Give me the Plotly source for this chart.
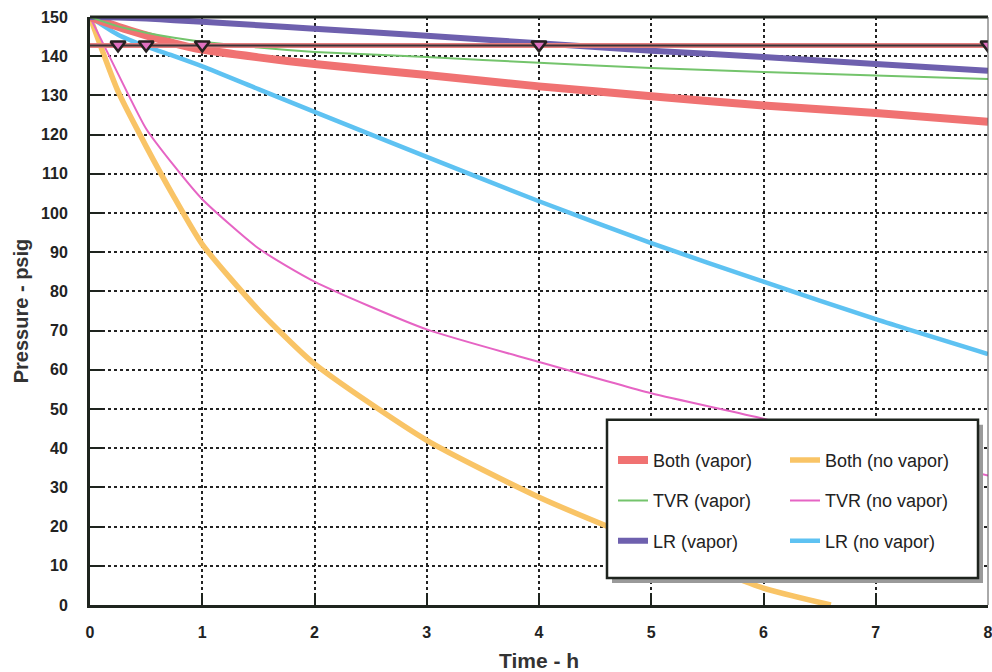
import plotly.graph_objects as go

# ---- data ----
t = [0, 0.25, 0.5, 0.75, 1, 1.5, 2, 3, 4, 5, 6, 7, 8]
both_vapor = [150, 147.5, 145.3, 143.3, 141.7, 139.7, 138.0, 135.2, 132.3, 129.8, 127.4, 125.5, 123.3]
tvr_vapor = [150, 147.6, 146.0, 144.7, 143.7, 142.2, 141.1, 139.8, 138.3, 137.0, 136.0, 135.1, 134.2]
lr_vapor = [150, 149.9, 149.6, 149.2, 148.8, 147.9, 147.0, 145.2, 143.3, 141.4, 139.8, 138.0, 136.3]
lr_novapor = [150, 145.5, 142.5, 140.0, 137.4, 131.6, 125.8, 114.3, 103.0, 92.3, 82.5, 72.9, 64.0]
tvr_novapor = [150, 135.5, 121.5, 112.0, 103.5, 91.0, 82.5, 70.3, 62.0, 54.0, 47.5, 40.0, 33.0]
t_both_novapor = [0, 0.25, 0.5, 0.75, 1, 1.5, 2, 3, 4, 5, 6, 6.6]
both_novapor = [150, 131, 117, 104, 92, 75.3, 61.5, 42, 27.5, 15.5, 4.3, 0]

ref_t = [0, 8]
ref_p = [142.7, 142.7]
mark_t = [0.25, 0.5, 1, 4, 8]
mark_p = [142.9, 142.9, 142.9, 142.9, 142.9]

x_ticks = [0, 1, 2, 3, 4, 5, 6, 7, 8]
y_ticks = list(range(0, 151, 10))

C_RED = "#F07272"
C_ORANGE = "#F9C466"
C_GREEN = "#74C46C"
C_PINK = "#E664C4"
C_PURPLE = "#6E60AE"
C_BLUE = "#5EC2F2"

FONT = "Liberation Sans, Arial, sans-serif"

fig = go.Figure()

def add(x, y, name, color, width, legend, group, rank):
    fig.add_trace(go.Scatter(
        x=x, y=y, name=name, mode="lines",
        line=dict(color=color, width=width, shape="spline", smoothing=0.6),
        legend=legend, legendgroup=group, legendrank=rank))

# draw order: lighter/thin on top
add(t_both_novapor, both_novapor, "Both (no vapor)", C_ORANGE, 5.5, "legend2", "g1", 1)
add(t, tvr_novapor, "TVR (no vapor)", C_PINK, 2, "legend2", "g2", 2)
add(t, lr_novapor, "LR (no vapor)", C_BLUE, 4.5, "legend2", "g3", 3)
add(t, both_vapor, "Both (vapor)", C_RED, 8, "legend", "a1", 1)
add(t, lr_vapor, "LR (vapor)", C_PURPLE, 6, "legend", "a3", 3)
add(t, tvr_vapor, "TVR (vapor)", C_GREEN, 2, "legend", "a2", 2)

# reference line with triangle markers
fig.add_trace(go.Scatter(x=ref_t, y=ref_p, mode="lines",
                         line=dict(color="#E88080", width=5), showlegend=False))
fig.add_trace(go.Scatter(x=ref_t, y=ref_p, mode="lines",
                         line=dict(color="#3a3438", width=2), showlegend=False))
fig.add_trace(go.Scatter(x=mark_t, y=mark_p, mode="markers",
                         marker=dict(symbol="triangle-down", size=13, color="#E070C0",
                                     line=dict(color="#262020", width=2.5)),
                         showlegend=False))

# legend box (shadow + white box with black border)
def px2x(px):
    return (px - 90) / 898.0

def py2y(py):
    return (605 - py) / 587.5

fig.add_shape(type="rect", xref="paper", yref="paper",
              x0=px2x(612), x1=px2x(983), y0=py2y(583), y1=py2y(425),
              fillcolor="#9a9a9a", line=dict(width=0), layer="above")
fig.add_shape(type="rect", xref="paper", yref="paper",
              x0=px2x(607), x1=px2x(978), y0=py2y(578), y1=py2y(420),
              fillcolor="white", line=dict(color="#1e241e", width=2.5), layer="above")

# top and right frame
fig.add_shape(type="line", xref="paper", yref="paper", x0=0, x1=1, y0=1, y1=1,
              line=dict(color="#1e241e", width=3), layer="above")
fig.add_shape(type="line", xref="paper", yref="paper", x0=1, x1=1, y0=0, y1=1,
              line=dict(color="#555555", width=1), layer="above")

legend_common = dict(
    bgcolor="rgba(0,0,0,0)", borderwidth=0,
    font=dict(family=FONT, size=18, color="#222222"),
    tracegroupgap=14, orientation="v", yanchor="top", xanchor="left",
    itemwidth=30, traceorder="grouped",
)

fig.update_layout(
    width=992, height=672,
    margin=dict(l=90, r=4, t=17, b=67),
    plot_bgcolor="white", paper_bgcolor="white",
    font=dict(family=FONT, color="#222222"),
    legend=dict(x=px2x(613), y=py2y(442), **legend_common),
    legend2=dict(x=px2x(785), y=py2y(442), **legend_common),
    xaxis=dict(
        range=[0, 8], tickvals=x_ticks, ticktext=[str(v) for v in x_ticks],
        showline=True, linecolor="#1e241e", linewidth=3,
        ticks="inside", ticklen=12, tickwidth=2, tickcolor="#1e241e",
        showgrid=True, gridcolor="#222222", griddash="dot", gridwidth=1.5,
        zeroline=False, automargin=False, ticklabeloverflow="allow",
        tickfont=dict(family=FONT, size=16, color="#222222", weight="bold"),
        ticklabelstandoff=11,
        title=dict(text="<b>Time - h</b>", font=dict(family=FONT, size=21, color="#333333"),
                   standoff=14),
    ),
    yaxis=dict(
        range=[0, 150], tickvals=y_ticks, ticktext=[str(v) for v in y_ticks],
        showline=True, linecolor="#1e241e", linewidth=3,
        ticks="inside", ticklen=12, tickwidth=2, tickcolor="#1e241e",
        showgrid=True, gridcolor="#222222", griddash="dot", gridwidth=1.5,
        zeroline=False, automargin=False,
        tickfont=dict(family=FONT, size=16, color="#222222", weight="bold"),
        ticklabelstandoff=16,
        title=dict(text="<b>Pressure - psig</b>", font=dict(family=FONT, size=20, color="#333333"),
                   standoff=8),
    ),
)

fig.write_html("out.html",
               config={"displayModeBar": False},
               post_script="document.body.style.margin='0';document.body.style.overflow='hidden';")
